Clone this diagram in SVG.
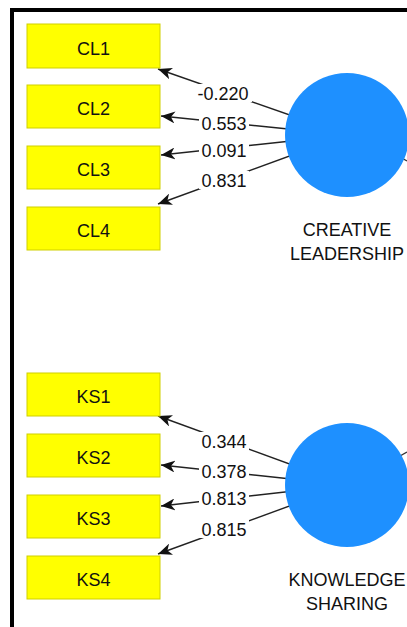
<svg xmlns="http://www.w3.org/2000/svg" width="407" height="627" viewBox="0 0 407 627">
  <style>
    .ind rect { fill: #FFFF00; stroke: #CFCF00; stroke-width: 1; }
    .ind text, .lat text, .lbl text { font-family: "Liberation Sans", Arial, sans-serif; font-size: 18px; fill: #111; text-anchor: middle; }
    .lat circle { fill: #1E90FF; }
    .edge { stroke: #222; stroke-width: 1.4; fill: none; marker-end: url(#arr); }
    .stub { stroke: #333; stroke-width: 1.4; fill: none; }
    .lbl rect { fill: #fff; }
  </style>
  <defs>
    <marker id="arr" viewBox="0 0 14 12" refX="14" refY="6" markerWidth="14" markerHeight="12" markerUnits="userSpaceOnUse" orient="auto">
      <path d="M14,6 L0,0 L4,6 L0,12 Z" fill="#111"/>
    </marker>
  </defs>

  <rect width="407" height="627" fill="#fff"/>
  <!-- frame -->
  <path d="M12,627 V10 H407" fill="none" stroke="#000" stroke-width="4"/>

  <!-- connectors -->
  <g id="connectors">
    <line class="edge" x1="347" y1="135" x2="158" y2="69"/>
    <line class="edge" x1="347" y1="135" x2="161" y2="116"/>
    <line class="edge" x1="347" y1="135" x2="161" y2="155"/>
    <line class="edge" x1="347" y1="135" x2="158" y2="204"/>
    <line class="edge" x1="347" y1="485" x2="158" y2="416"/>
    <line class="edge" x1="347" y1="485" x2="161" y2="465"/>
    <line class="edge" x1="347" y1="485" x2="161" y2="506"/>
    <line class="edge" x1="347" y1="485" x2="158" y2="554"/>
    <line class="stub" x1="400" y1="157" x2="407" y2="161"/>
    <line class="stub" x1="400" y1="456" x2="407" y2="452"/>
  </g>

  <!-- loading labels -->
  <g class="lbl">
    <rect x="194" y="84" width="58" height="18"/><text x="223" y="100">-0.220</text>
    <rect x="199" y="114" width="50" height="18"/><text x="224" y="130">0.553</text>
    <rect x="199" y="141" width="50" height="18"/><text x="224" y="157">0.091</text>
    <rect x="199" y="171" width="50" height="18"/><text x="224" y="187">0.831</text>
    <rect x="199" y="432" width="50" height="18"/><text x="224" y="448">0.344</text>
    <rect x="199" y="462" width="50" height="18"/><text x="224" y="478">0.378</text>
    <rect x="199" y="489" width="50" height="18"/><text x="224" y="505">0.813</text>
    <rect x="199" y="520" width="50" height="18"/><text x="224" y="536">0.815</text>
  </g>

  <!-- latent variables -->
  <g id="creative-leadership" class="lat">
    <circle cx="347" cy="135" r="62"/>
    <text x="347" y="236">CREATIVE</text>
    <text x="347" y="260">LEADERSHIP</text>
  </g>
  <g id="knowledge-sharing" class="lat">
    <circle cx="347" cy="485" r="62"/>
    <text x="347" y="586">KNOWLEDGE</text>
    <text x="347" y="610">SHARING</text>
  </g>

  <!-- indicators -->
  <g id="CL1" class="ind"><rect x="27" y="24" width="133" height="44"/><text x="93.5" y="55">CL1</text></g>
  <g id="CL2" class="ind"><rect x="27" y="85" width="133" height="43"/><text x="93.5" y="115">CL2</text></g>
  <g id="CL3" class="ind"><rect x="27" y="146" width="133" height="43"/><text x="93.5" y="176">CL3</text></g>
  <g id="CL4" class="ind"><rect x="27" y="207" width="133" height="43"/><text x="93.5" y="237">CL4</text></g>
  <g id="KS1" class="ind"><rect x="27" y="373" width="133" height="43"/><text x="93.5" y="403">KS1</text></g>
  <g id="KS2" class="ind"><rect x="27" y="434" width="133" height="43"/><text x="93.5" y="464">KS2</text></g>
  <g id="KS3" class="ind"><rect x="27" y="495" width="133" height="43"/><text x="93.5" y="525">KS3</text></g>
  <g id="KS4" class="ind"><rect x="27" y="556" width="133" height="43"/><text x="93.5" y="586">KS4</text></g>
</svg>
